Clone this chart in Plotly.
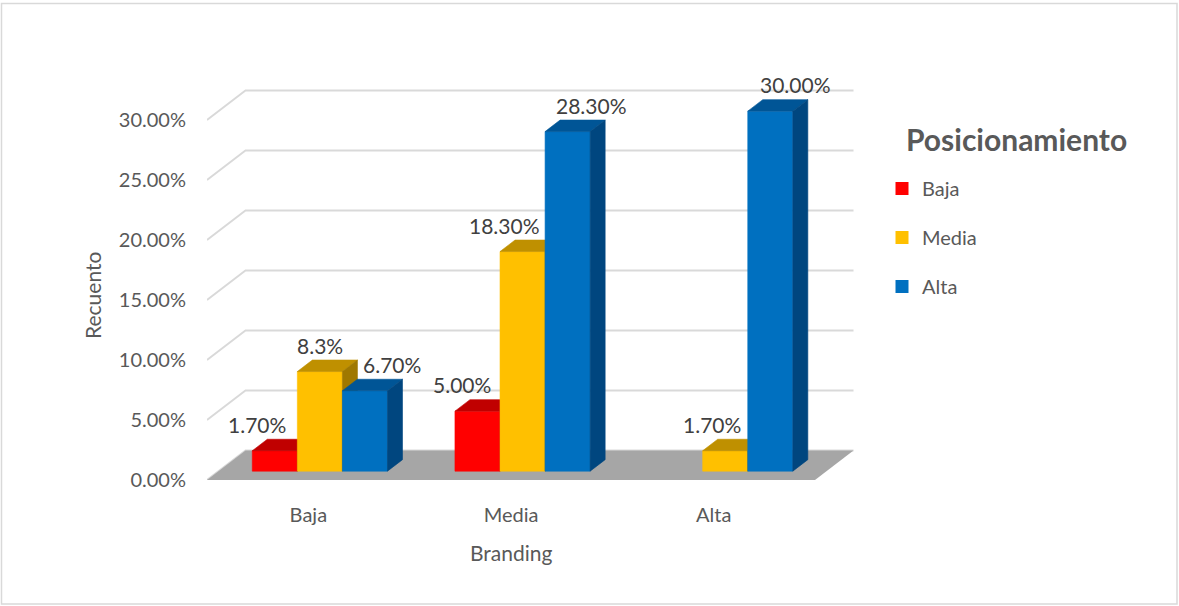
import plotly.graph_objects as go

# ---------------- data ----------------
CATEGORIES = ["Baja", "Media", "Alta"]          # Branding (x axis)
SERIES = ["Baja", "Media", "Alta"]              # Posicionamiento (legend)
VAL_BAJA = [1.7, 5.0, 0.0]
VAL_MEDIA = [8.3, 18.3, 1.7]
VAL_ALTA = [6.7, 28.3, 30.0]
LBL_BAJA = ["1.70%", "5.00%", ""]
LBL_MEDIA = ["8.3%", "18.30%", "1.70%"]
LBL_ALTA = ["6.70%", "28.30%", "30.00%"]
Y_TICKS = [0, 5, 10, 15, 20, 25, 30]
Y_TICK_TEXT = ["0.00%", "5.00%", "10.00%", "15.00%", "20.00%", "25.00%", "30.00%"]

VALUES = [VAL_BAJA, VAL_MEDIA, VAL_ALTA]
LABELS = [LBL_BAJA, LBL_MEDIA, LBL_ALTA]

# ---------------- style / geometry ----------------
FRONT = ["#FF0000", "#FFC000", "#0070C0"]
TOP = ["#C00000", "#BF9000", "#005596"]
SIDE = ["#A00000", "#9F7800", "#00467F"]
LABEL_XSHIFT = [[-18, -15, 0], [0, -18, -13], [27, 24, 25]]

W, H = 1179, 606
L, R, T, B = 207, 870, 80, 480
CAT_PX = 202.67
PX_Y = 12.0
XR = [-0.5, -0.5 + (R - L) / CAT_PX]
YR = [0, (B - T) / PX_Y]
DX = 38.5 / CAT_PX        # full floor depth, in x units
DY = 29.5 / PX_Y          # full floor depth, in y units
F0, F1 = 0.30, 0.69       # bar front / back depth fractions
GROUP = 0.667
BW = GROUP / 3
GRID = "#D9D9D9"
FONT = "Lato"


def px2paper_x(px):
    return (px - L) / (R - L)


def px2paper_y(py):
    return (B - py) / (B - T)


fig = go.Figure()

# back wall + left wall gridlines (perspective)
gx, gy = [], []
nc = len(CATEGORIES)
for v in Y_TICKS:
    gx += [-0.5, -0.5 + DX, nc - 0.5 + DX, None]
    gy += [v, v + DY, v + DY, None]
fig.add_trace(go.Scatter(x=gx, y=gy, mode="lines", line=dict(color=GRID, width=1.8),
                         hoverinfo="skip", showlegend=False))

# floor
fig.add_trace(go.Scatter(
    x=[-0.5, nc - 0.5, nc - 0.5 + DX, -0.5 + DX, -0.5],
    y=[0, 0, DY, DY, 0], mode="lines", fill="toself", fillcolor="#A6A6A6",
    line=dict(width=0), hoverinfo="skip", showlegend=False))

# 3D bars
bdx = (F1 - F0) * DX
bdy = (F1 - F0) * DY
fx = F0 * DX
fy = F0 * DY
annotations = []
for i, cat in enumerate(CATEGORIES):
    for s, name in enumerate(SERIES):
        v = VALUES[s][i]
        if v <= 0:
            continue
        xl = i - GROUP / 2 + s * BW + fx
        xr = xl + BW
        y0 = fy
        y1 = v + fy
        polys = [
            ([xl, xr, xr, xl, xl], [y0, y0, y1, y1, y0], FRONT[s]),
            ([xl, xr, xr + bdx, xl + bdx, xl], [y1, y1, y1 + bdy, y1 + bdy, y1], TOP[s]),
            ([xr, xr + bdx, xr + bdx, xr, xr], [y0, y0 + bdy, y1 + bdy, y1, y0], SIDE[s]),
        ]
        for px_, py_, col in polys:
            fig.add_trace(go.Scatter(x=px_, y=py_, mode="lines", fill="toself",
                                     fillcolor=col, line=dict(width=0.6, color=col),
                                     hoverinfo="skip", showlegend=False))
        annotations.append(dict(
            x=(xl + xr) / 2, y=y1, xref="x", yref="y", text=LABELS[s][i],
            showarrow=False, yanchor="bottom", yshift=12, xshift=LABEL_XSHIFT[s][i],
            font=dict(family=FONT, size=21, color="#404040")))

# legend entries
for s, name in enumerate(SERIES):
    fig.add_trace(go.Scatter(x=[None], y=[None], mode="markers", name=name,
                             legendgroup=name,
                             marker=dict(symbol="square", size=13, color=FRONT[s])))

# legend title + axis titles
annotations.append(dict(x=px2paper_x(1016), y=px2paper_y(139), xref="paper", yref="paper",
                        xanchor="center", yanchor="middle",
                        text="<b>Posicionamiento</b>", showarrow=False,
                        font=dict(family=FONT, size=30, color="#595959")))
annotations.append(dict(x=px2paper_x(92), y=px2paper_y(296), xref="paper", yref="paper",
                        xanchor="center", yanchor="middle",
                        text="Recuento", textangle=-90, showarrow=False,
                        font=dict(family=FONT, size=21, color="#595959")))
annotations.append(dict(x=px2paper_x(511), y=px2paper_y(552), xref="paper", yref="paper",
                        xanchor="center", yanchor="middle",
                        text="Branding", showarrow=False,
                        font=dict(family=FONT, size=21, color="#595959")))

# outer chart border
shapes = [dict(type="rect", xref="paper", yref="paper",
               x0=px2paper_x(1.5), x1=px2paper_x(1177), y0=px2paper_y(604), y1=px2paper_y(3.5),
               line=dict(color="#D9D9D9", width=1.5), fillcolor="rgba(0,0,0,0)", layer="below")]

fig.update_layout(
    width=W, height=H,
    margin=dict(l=L, r=W - R, t=T, b=H - B, autoexpand=False),
    paper_bgcolor="white", plot_bgcolor="white",
    xaxis=dict(range=XR, tickmode="array", tickvals=list(range(nc)), ticktext=CATEGORIES,
               showgrid=False, zeroline=False, showline=False, ticks="",
               ticklabelstandoff=21,
               tickfont=dict(family=FONT, size=20, color="#595959"), fixedrange=True),
    yaxis=dict(range=YR, tickmode="array", tickvals=Y_TICKS, ticktext=Y_TICK_TEXT,
               showgrid=False, zeroline=False, showline=False, ticks="",
               ticklabelstandoff=20,
               tickfont=dict(family=FONT, size=20, color="#595959"), fixedrange=True),
    legend=dict(xref="container", yref="container", x=882 / W, y=1 - 169 / H,
                xanchor="left", yanchor="top", tracegroupgap=20,
                font=dict(family=FONT, size=20, color="#595959"),
                itemwidth=30, bgcolor="rgba(0,0,0,0)"),
    annotations=annotations,
    shapes=shapes,
    showlegend=True,
)

fig.write_html("out.html", config={"displayModeBar": False},
               post_script="document.body.style.margin='0px';")
